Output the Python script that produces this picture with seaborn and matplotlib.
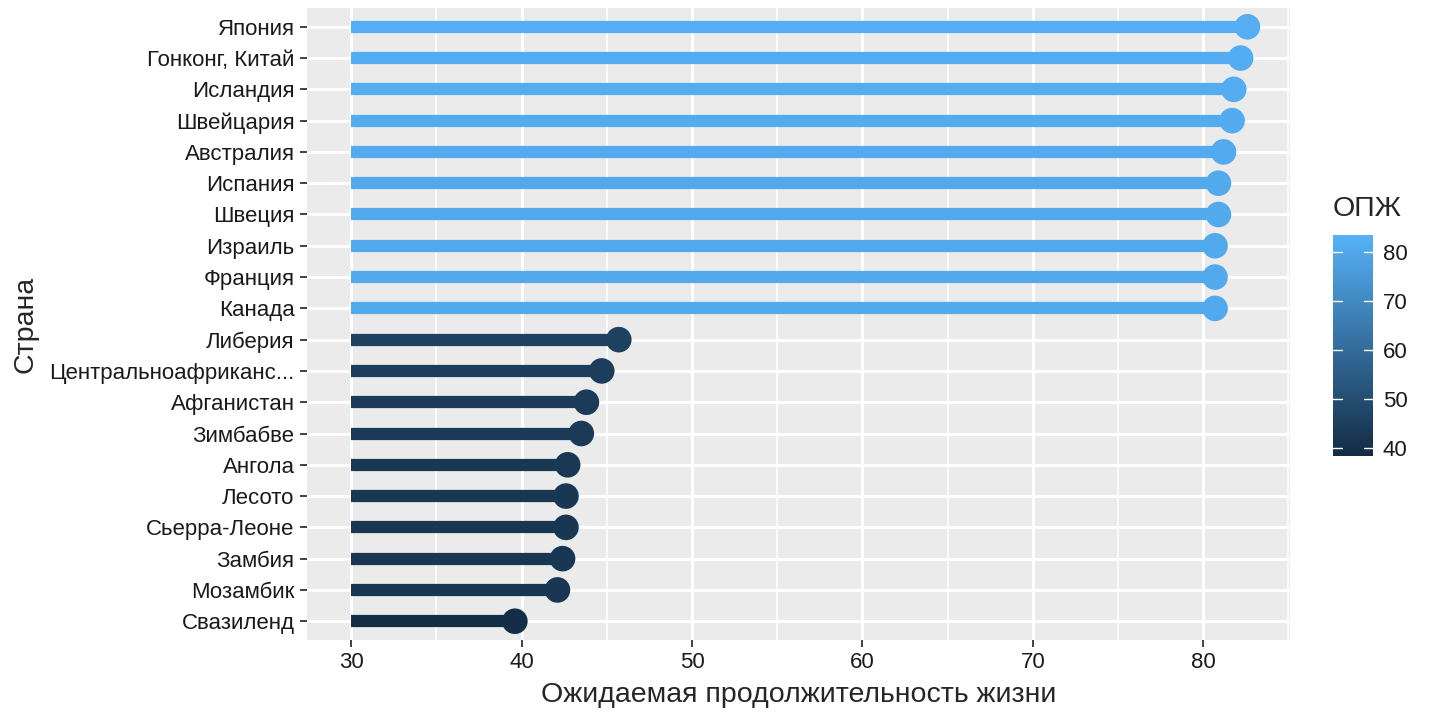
import seaborn as sns
import matplotlib.pyplot as plt
import matplotlib as mpl
import pandas as pd
import numpy as np
from matplotlib.colors import LinearSegmentedColormap, Normalize

# データ
countries = ['Япония', 'Гонконг, Китай', 'Исландия', 'Швейцария', 'Австралия',
             'Испания', 'Швеция', 'Израиль', 'Франция', 'Канада',
             'Либерия', 'Центральноафриканс...', 'Афганистан', 'Зимбабве', 'Ангола',
             'Лесото', 'Сьерра-Леоне', 'Замбия', 'Мозамбик', 'Свазиленд']
life_exp = [82.6, 82.2, 81.8, 81.7, 81.2, 80.9, 80.9, 80.7, 80.7, 80.7,
            45.7, 44.7, 43.8, 43.5, 42.7, 42.6, 42.6, 42.4, 42.1, 39.6]
start = 30
cbar_ticks = [40, 50, 60, 70, 80]

df = pd.DataFrame({'Страна': countries, 'ОПЖ': life_exp})

sns.set_theme(style='darkgrid', rc={'axes.facecolor': '#EBEBEB', 'grid.color': 'white'})
plt.rcParams['font.family'] = ['Liberation Sans', 'DejaVu Sans']

cmap = LinearSegmentedColormap.from_list('gg', ['#132B43', '#56B1F7'])
norm = Normalize(vmin=38.4, vmax=83.5)

fig = plt.figure(figsize=(14.4, 7.2), dpi=100)
ax = fig.add_axes([307 / 1440, 80 / 720, (1290 - 307) / 1440, (640 - 8) / 720])

ypos = np.arange(len(countries))
ax.hlines(ypos, start, df['ОПЖ'], colors=cmap(norm(df['ОПЖ'])), linewidth=8.8, zorder=2)
sns.scatterplot(data=df, x='ОПЖ', y='Страна', hue='ОПЖ', palette=cmap, hue_norm=norm,
                s=340, linewidth=0, legend=False, ax=ax, zorder=3)

ax.set_ylim(len(countries) - 0.4, -0.6)
ax.set_xlim(27.4, 85.1)
ax.set_xticks([30, 40, 50, 60, 70, 80])
ax.set_xticks([35, 45, 55, 65, 75, 85], minor=True)
ax.grid(True, which='major', color='white', linewidth=2.2)
ax.grid(True, which='minor', axis='x', color='white', linewidth=1.1)
ax.set_axisbelow(True)
for s in ax.spines.values():
    s.set_visible(False)
ax.tick_params(axis='both', which='major', length=5, width=1.3, color='#333333',
               labelsize=16, labelcolor='#1A1A1A', pad=4, left=True, bottom=True)
ax.tick_params(axis='both', which='minor', length=0)
ax.set_xlabel('Ожидаемая продолжительность жизни', fontsize=20.5, labelpad=6)
ax.set_ylabel('Страна', fontsize=20.5, labelpad=8)

# カラーバー
cax = fig.add_axes([1333 / 1440, (720 - 456) / 720, 40 / 1440, (456 - 235) / 720])
cb = mpl.colorbar.ColorbarBase(cax, cmap=cmap, norm=norm, ticks=cbar_ticks)
cb.outline.set_visible(False)
cax.tick_params(length=0, labelsize=16, labelcolor='#1A1A1A', pad=7)
for t in cbar_ticks:
    cax.plot([0, 0.22], [t, t], color='white', lw=1, transform=cax.get_yaxis_transform())
    cax.plot([0.78, 1], [t, t], color='white', lw=1, transform=cax.get_yaxis_transform())
cax.set_title('ОПЖ', fontsize=20.5, loc='left', pad=14)

fig.savefig('out.png', dpi=100)
